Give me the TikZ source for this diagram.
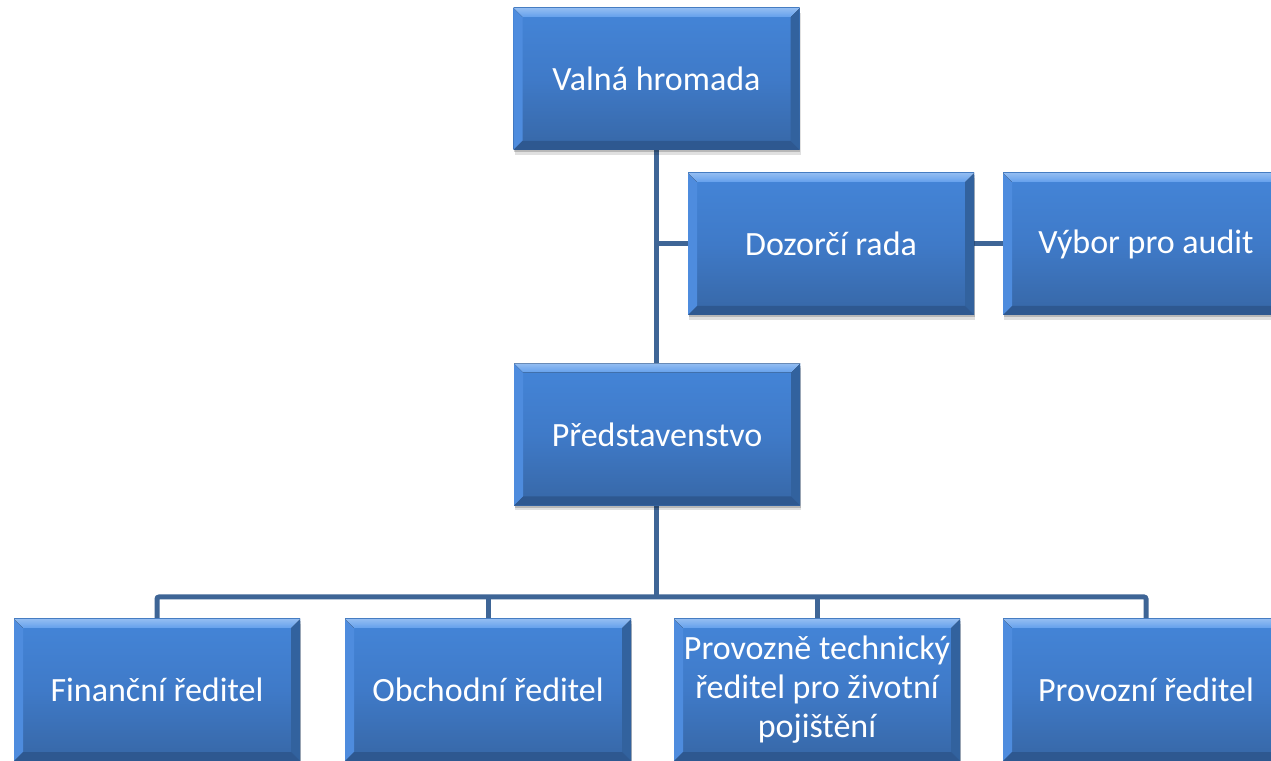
\documentclass[tikz,border=0pt]{standalone}
\usepackage{fontspec}
\newfontfamily\boxfont{Carlito}
\usetikzlibrary{shadows,calc,backgrounds}
\definecolor{linecol}{RGB}{62,101,150}
\definecolor{boxtop}{RGB}{68,133,216}
\definecolor{boxmid}{RGB}{63,122,200}
\definecolor{boxbot}{RGB}{55,103,166}
\definecolor{bevT}{RGB}{100,160,236}
\definecolor{bevL}{RGB}{78,140,222}
\definecolor{bevR}{RGB}{50,98,158}
\definecolor{bevB}{RGB}{46,88,144}
\tikzset{
  orgbox/.style={rectangle, minimum width=286pt, minimum height=142pt, inner sep=0pt,
    align=center, text=white,
    font=\boxfont\fontsize{34}{39}\selectfont,
    top color=boxtop, bottom color=boxbot, middle color=boxmid,
    drop shadow={shadow xshift=1pt, shadow yshift=-5pt, opacity=.12, fill=black},
    drop shadow={shadow xshift=0.5pt, shadow yshift=-2.5pt, opacity=.18, fill=black},
    path picture={
      \coordinate (nw) at (path picture bounding box.north west);
      \coordinate (ne) at (path picture bounding box.north east);
      \coordinate (sw) at (path picture bounding box.south west);
      \coordinate (se) at (path picture bounding box.south east);
      \fill[bevL] (nw) -- ([shift={(9pt,-9pt)}]nw) -- ([shift={(9pt,9pt)}]sw) -- (sw) -- cycle;
      \fill[bevR] (ne) -- ([shift={(-9pt,-9pt)}]ne) -- ([shift={(-9pt,9pt)}]se) -- (se) -- cycle;
      \fill[bevB] (sw) -- ([shift={(9pt,9pt)}]sw) -- ([shift={(-9pt,9pt)}]se) -- (se) -- cycle;
      \fill[top color=bevT!70!white, bottom color=bevT] (nw) -- (ne) -- ([shift={(-9pt,-9pt)}]ne) -- ([shift={(9pt,-9pt)}]nw) -- cycle;
    }},
  conn/.style={draw=linecol, line width=5pt, rounded corners=2pt}
}
\begin{document}
\begin{tikzpicture}[x=1pt,y=1pt]
\useasboundingbox (0,0) rectangle (1271,760);
\clip (0,0) rectangle (1271,760);
\node[orgbox] (V) at (656.5,681) {Valná hromada};
\node[orgbox] (D) at (831,516) {Dozorčí rada};
\node[orgbox] (A) at (1146,516) {Výbor pro audit};
\node[orgbox] (P) at (657,325.5) {Představenstvo};
\node[orgbox] (F) at (157,70) {Finanční ředitel};
\node[orgbox] (O) at (488,70) {Obchodní ředitel};
\node[orgbox] (T) at (817,70) {Provozně technický\\ředitel pro životní\\pojištění};
\node[orgbox] (Z) at (1146,70) {Provozní ředitel};
\coordinate (bus) at (656,163);
\begin{scope}[on background layer]
\fill[white] (0,0) rectangle (1271,760);
\draw[conn] (V.south -| bus) -- (P.north -| bus);
\draw[conn] (D.west) -- (D.west -| bus);
\draw[conn] (D.east) -- (A.west);
\draw[conn] (P.south -| bus) -- (bus);
\draw[conn] (F.north) |- (bus) -| (Z.north);
\draw[conn] (O.north) -- (O.north |- bus);
\draw[conn] (T.north) -- (T.north |- bus);
\end{scope}
\end{tikzpicture}
\end{document}
